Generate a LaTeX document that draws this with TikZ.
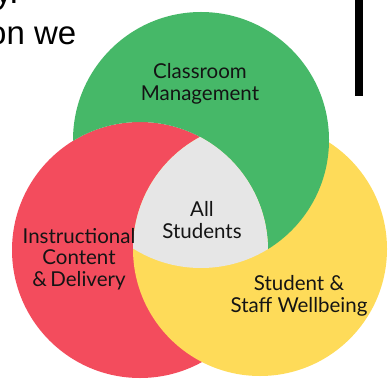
\documentclass[tikz,border=0pt]{standalone}
\usepackage{fontspec}
\setmainfont{Lato}
\newfontfamily\bodyfont{Liberation Sans}
\definecolor{vgreen}{RGB}{70,184,104}
\definecolor{vred}{RGB}{243,76,93}
\definecolor{vyellow}{RGB}{254,219,89}
\definecolor{vgray}{RGB}{230,230,230}
\definecolor{vtext}{RGB}{20,20,20}
\begin{document}
\begin{tikzpicture}[x=1pt,y=-1pt,
  lbl/.style={text=vtext,font=\fontsize{20.5}{21.5}\selectfont,align=center,inner sep=0pt},
  bodytxt/.style={text=black,font=\bodyfont\fontsize{33}{41}\selectfont,anchor=base west,inner sep=0pt}]
\useasboundingbox (0,0) rectangle (390,379);
\clip (0,0) rectangle (390,379);
\def\greenc{(201,140) circle[radius=128pt]}
\def\redc{(140,250) circle[radius=128pt]}
\def\yellowc{(260,249) circle[radius=127pt]}
\fill[vred] \redc;
\fill[vyellow] \yellowc;
\begin{scope}[even odd rule]
  \clip (-10,-10) rectangle (400,390) \redc;
  \fill[vgreen] \greenc;
\end{scope}
\begin{scope}
  \clip \redc;
  \clip \greenc;
  \fill[vgray] \yellowc;
\end{scope}
% top-left text and bar
\node[bodytxt] (t1) at (-14,4) {ty.};
\node[bodytxt] (t2) at (-12,45) {on we};
\fill[black] (355,0) rectangle (363,96);
% labels
\node[lbl] (cm) at (200,84) {Classroom\\Management};
\node[lbl] (as) at (202,220) {All\\Students};
\node[lbl] (icd) at (79,259) {Instructional\\Content\\\&\,Delivery};
\node[lbl] (ssw) at (299,296) {Student \&\\Staff Wellbeing};
\end{tikzpicture}
\end{document}
